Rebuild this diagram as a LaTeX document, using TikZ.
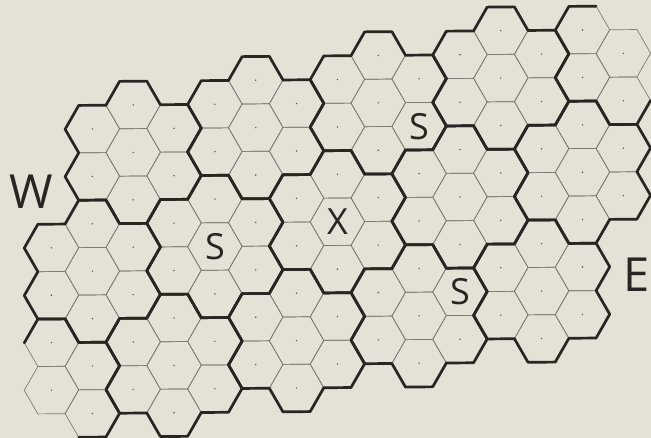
\documentclass[tikz,border=0pt]{standalone}
\usepackage{fontspec}
\newfontfamily\labelfont{Open Sans}
\definecolor{paper}{RGB}{229,225,215}
\definecolor{ink}{RGB}{40,37,34}
\definecolor{gridgrey}{RGB}{128,124,117}
\definecolor{dotgrey}{RGB}{90,86,80}
% columns: index / first half-row / further cells
\newcommand\hexcolumns{0/10/3, 1/5/6, 2/4/6, 3/5/6, 4/4/6, 5/3/6, 6/4/6, 7/3/6,
    8/2/6, 9/3/6, 10/2/6, 11/1/6, 12/2/6, 13/1/6, 14/2/3}

\begin{document}
\begin{tikzpicture}[
        cell/.style={draw=gridgrey, line width=0.7pt},
        border/.style={draw=ink, line width=2.7pt, line join=round, line cap=round},
        centre/.style={fill=dotgrey},
        compass/.style={font=\labelfont\fontsize{47}{47}\selectfont, text=ink, inner sep=0pt},
        site/.style={font=\labelfont\fontsize{36}{36}\selectfont, text=ink, inner sep=0pt}
    ]
    % paper
    \fill[paper] (0,0) rectangle (651pt,438pt);
    \useasboundingbox (0,0) rectangle (651pt,438pt);

    \begin{scope}[shift={(51.5pt,427.15pt)}, x={(27.23pt,0.233pt)}, y={(0pt,27.37pt)}]
    % thin cells and centre dots
    \foreach \col/\hfirst/\n in \hexcolumns {
        \foreach \k in {0,...,\n} {
            \pgfmathsetmacro\cx{1.5*\col}
            \pgfmathsetmacro\cy{-0.866025*(\hfirst+2*\k)}
            \draw[cell] (\cx,\cy) +(0:1) -- +(60:1) -- +(120:1) -- +(180:1)
                -- +(240:1) -- +(300:1) -- cycle;
            \fill[centre] (\cx,\cy) circle[radius=0.8pt];
        }
    }

    % thick borders of the seven-cell groups
    \foreach \col/\hfirst/\n in \hexcolumns {
        \foreach \k in {0,...,\n} {
            \pgfmathtruncatemacro\hrow{\hfirst+2*\k}
            \pgfmathtruncatemacro\g{mod(2*\col-\hrow+51,7)}
            \ifnum\g>0
                \pgfmathsetmacro\dir{{0,-30,90,30,210,-90,150}[\g]}
                \draw[border] (1.5*\col,-0.866025*\hrow) +(\dir-90:1) -- +(\dir-30:1)
                    -- +(\dir+30:1) -- +(\dir+90:1);
            \fi
        }
    }

    % marked cells
    \node[site] (sleft)  at (6,-8.66025)   {S};
    \node[site] (stop)   at (13.5,-4.33013) {S};
    \node[site] (sright) at (15,-10.3923)   {S};
    \node[site] (cross)  at (10.5,-7.79423) {X};
    \end{scope}

    \node[compass] (west) at (31.5pt,246.5pt) {W};
    \node[compass] (east) at (637pt,163pt)   {E};
\end{tikzpicture}
\end{document}
